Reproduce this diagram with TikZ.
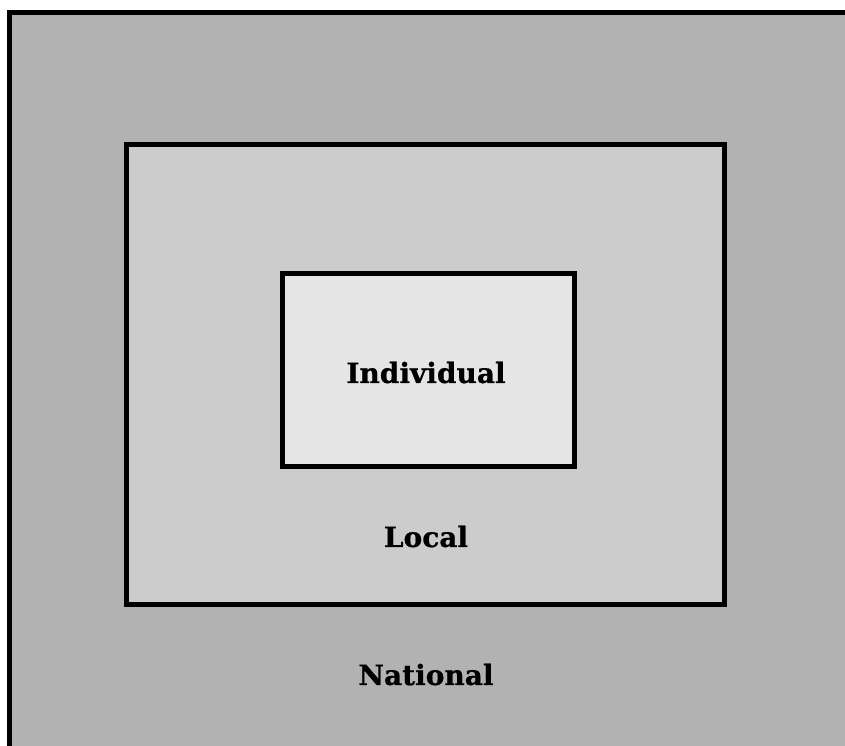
\documentclass[tikz,border=0pt]{standalone}
\usepackage{fontspec}
\newfontfamily\labelfont[BoldFeatures={FakeBold=0.6}]{DejaVu Serif}
\definecolor{natgray}{gray}{0.70}
\definecolor{locgray}{gray}{0.80}
\definecolor{indgray}{gray}{0.90}
\tikzset{
    level/.style={draw=black, line width=5pt},
    levellabel/.style={font=\labelfont\bfseries\fontsize{28}{30}\selectfont, anchor=base, inner sep=0pt}
}
\begin{document}
\begin{tikzpicture}[x=1pt, y=1pt]
    \useasboundingbox (0, 0) rectangle (845, 746);
    \clip (0, 0) rectangle (845, 746);

    % 三层嵌套
    \draw[level, fill=natgray] (9.5, 733.5) rectangle (870, -30);
    \draw[level, fill=locgray] (126.5, 601.5) rectangle (724.5, 141.5);
    \draw[level, fill=indgray] (282.5, 472.5) rectangle (574.5, 279.5);

    % 标签
    \node[levellabel] (individual) at (426, 363) {Individual};
    \node[levellabel] (local) at (426, 199) {Local};
    \node[levellabel] (national) at (426, 61) {National};
\end{tikzpicture}
\end{document}
